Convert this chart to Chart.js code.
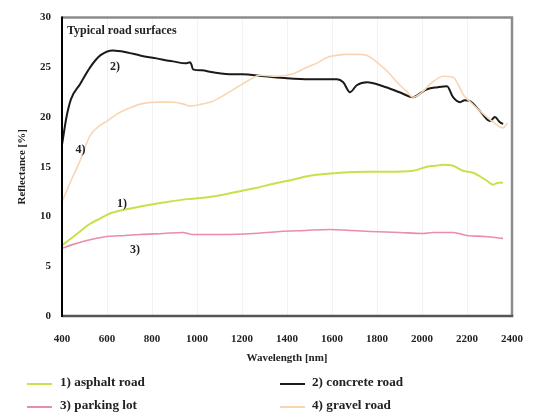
<!DOCTYPE html>
<html>
<head>
<meta charset="utf-8">
<script src="https://cdn.jsdelivr.net/npm/chart.js@4"></script>
<style>
  html, body { margin: 0; padding: 0; background: #fff; }
  #wrap { position: relative; width: 541px; height: 417px; }
  #legend { position: absolute; left: 0; top: 0; width: 541px; height: 417px; pointer-events: none; }
  .item { position: absolute; font: bold 12px "Liberation Serif", "DejaVu Serif", serif; color: #222; white-space: nowrap; }
  .item .ln { position: absolute; height: 0; border-top: 2px solid #000; }
</style>
</head>
<body>
<div id="wrap">
  <canvas id="c" width="541" height="417"></canvas>
  <div id="legend"></div>
</div>
<script>
// ---- data ----
const seriesNames = ["1) asphalt road", "2) concrete road", "3) parking lot", "4) gravel road"];
const seriesColors = ["#c6e24a", "#1a1a1a", "#ea8cb0", "#f8d6b4"];

const asphaltWl = [400, 440, 480, 520, 569, 613, 680, 747, 850, 955, 1030, 1116, 1200, 1267, 1340, 1405, 1502, 1580, 1636, 1750, 1850, 1960, 2022, 2060, 2093, 2138, 2182, 2227, 2260, 2289, 2316, 2340, 2360];
const asphaltR  = [7.1, 7.8, 8.5, 9.2, 9.8, 10.3, 10.7, 11.0, 11.4, 11.75, 11.9, 12.2, 12.6, 12.9, 13.3, 13.6, 14.1, 14.3, 14.4, 14.5, 14.5, 14.6, 15.0, 15.1, 15.2, 15.1, 14.6, 14.4, 14.0, 13.6, 13.2, 13.4, 13.4];

const concreteWl = [400, 420, 440, 480, 525, 570, 627, 690, 747, 820, 893, 950, 969, 975, 982, 1020, 1071, 1160, 1200, 1300, 1400, 1500, 1622, 1650, 1680, 1710, 1756, 1827, 1900, 1960, 2000, 2022, 2070, 2111, 2138, 2169, 2190, 2213, 2258, 2302, 2324, 2345, 2360];
const concreteR  = [17.2, 20.0, 21.8, 23.3, 25.0, 26.2, 26.7, 26.5, 26.2, 25.9, 25.6, 25.4, 25.5, 25.3, 24.8, 24.7, 24.5, 24.3, 24.3, 24.1, 23.9, 23.8, 23.8, 23.5, 22.5, 23.2, 23.5, 23.1, 22.5, 22.0, 22.5, 22.8, 23.0, 23.1, 22.0, 21.5, 21.7, 21.6, 20.6, 19.6, 20.0, 19.5, 19.3];

const parkingWl = [400, 450, 493, 550, 600, 680, 747, 850, 938, 980, 1116, 1250, 1369, 1480, 1591, 1680, 1769, 1900, 2004, 2050, 2138, 2200, 2280, 2360];
const parkingR  = [6.8, 7.2, 7.5, 7.8, 8.0, 8.1, 8.2, 8.3, 8.4, 8.2, 8.2, 8.3, 8.5, 8.6, 8.7, 8.6, 8.5, 8.4, 8.3, 8.4, 8.4, 8.1, 8.0, 7.8];

const gravelWl = [400, 440, 480, 524, 560, 600, 644, 700, 747, 820, 893, 940, 969, 1020, 1071, 1120, 1178, 1230, 1280, 1350, 1420, 1489, 1540, 1578, 1620, 1667, 1720, 1756, 1800, 1850, 1889, 1930, 1960, 2000, 2036, 2093, 2138, 2160, 2182, 2220, 2258, 2316, 2360, 2380];
const gravelR  = [11.5, 13.6, 15.6, 18.1, 19.0, 19.6, 20.3, 20.9, 21.3, 21.5, 21.5, 21.3, 21.1, 21.3, 21.6, 22.2, 23.0, 23.7, 24.2, 24.1, 24.3, 25.0, 25.5, 26.0, 26.2, 26.3, 26.3, 26.2, 25.5, 24.5, 23.5, 22.6, 22.0, 22.5, 23.3, 24.1, 24.0, 23.3, 22.3, 21.4, 20.6, 19.5, 18.9, 19.4];

const xMin = 400, xMax = 2400, xStep = 200;
const yMin = 0, yMax = 30, yStep = 5;

const chartTitle = "Typical road surfaces";
const xTitle = "Wavelength [nm]";
const yTitle = "Reflectance [%]";
const curveLabels = [
  { text: "1)", x: 667, y: 11.3 },
  { text: "2)", x: 635, y: 25.0 },
  { text: "3)", x: 724, y: 6.6 },
  { text: "4)", x: 482, y: 16.7 }
];

// ---- build ----
function pts(xs, ys) { return xs.map((x, i) => ({ x: x, y: ys[i] })); }
const seriesData = [pts(asphaltWl, asphaltR), pts(concreteWl, concreteR), pts(parkingWl, parkingR), pts(gravelWl, gravelR)];
const widths = [2, 2, 1.6, 1.6];
const drawOrder = [3, 2, 0, 1];

const FONT = '"Liberation Serif", "DejaVu Serif", serif';

const framePlugin = {
  id: 'frame',
  afterDraw(chart) {
    const { ctx, chartArea: a, scales } = chart;
    ctx.save();
    ctx.strokeStyle = '#8c8c8c';
    ctx.lineWidth = 2.5;
    ctx.beginPath();
    ctx.moveTo(a.left, a.top); ctx.lineTo(a.right, a.top); ctx.lineTo(a.right, a.bottom);
    ctx.stroke();
    ctx.strokeStyle = '#555';
    ctx.lineWidth = 2.5;
    ctx.beginPath();
    ctx.moveTo(a.left, a.bottom); ctx.lineTo(a.right + 1.25, a.bottom);
    ctx.stroke();
    ctx.strokeStyle = '#000';
    ctx.lineWidth = 2;
    ctx.beginPath();
    ctx.moveTo(a.left, a.top - 1); ctx.lineTo(a.left, a.bottom + 1);
    ctx.stroke();
    ctx.fillStyle = '#222';
    ctx.font = 'bold 12px ' + FONT;
    ctx.textBaseline = 'middle';
    ctx.textAlign = 'left';
    ctx.fillText(chartTitle, a.left + 5, a.top + 13);
    ctx.font = 'bold 12px ' + FONT;
    ctx.textAlign = 'center';
    curveLabels.forEach(l => {
      ctx.fillText(l.text, scales.x.getPixelForValue(l.x), scales.y.getPixelForValue(l.y));
    });
    ctx.restore();
  }
};

new Chart(document.getElementById('c'), {
  type: 'line',
  data: {
    datasets: drawOrder.map(i => ({
      label: seriesNames[i],
      data: seriesData[i],
      borderColor: seriesColors[i],
      borderWidth: widths[i],
      pointRadius: 0,
      fill: false,
      tension: 0.35,
      cubicInterpolationMode: 'monotone'
    }))
  },
  options: {
    responsive: false,
    animation: false,
    layout: { padding: { left: 0, top: 12, right: 29, bottom: 47 } },
    plugins: { legend: { display: false }, tooltip: { enabled: false } },
    scales: {
      x: {
        type: 'linear', min: xMin, max: xMax,
        afterFit(s) { s.height = 54; },
        ticks: { stepSize: xStep, padding: 17, color: '#222', font: { family: FONT, size: 11, weight: 'bold' }, maxRotation: 0,
                 callback: v => String(v) },
        grid: { color: 'rgba(0,0,0,0.05)', drawTicks: false },
        border: { display: false },
        title: { display: true, text: xTitle, color: '#222', font: { family: FONT, size: 11, weight: 'bold', lineHeight: 1.2 }, padding: { top: 0, bottom: 5 } }
      },
      y: {
        min: yMin, max: yMax,
        afterFit(s) { s.width = 62; },
        ticks: { stepSize: yStep, padding: 11, color: '#222', font: { family: FONT, size: 11, weight: 'bold' }, callback: v => String(v) },
        grid: { display: false, drawTicks: false },
        border: { display: false },
        title: { display: true, text: yTitle, color: '#222', font: { family: FONT, size: 11, weight: 'bold', lineHeight: 1.2 }, padding: { top: 16, bottom: 0 } }
      }
    }
  },
  plugins: [framePlugin]
});

// ---- legend (two columns, as in the reference) ----
const legendPos = [
  { lx: 27, tx: 60, y: 383 },
  { lx: 280, tx: 312, y: 383 },
  { lx: 27, tx: 60, y: 406 },
  { lx: 280, tx: 312, y: 406 }
];
const leg = document.getElementById('legend');
seriesNames.forEach((name, i) => {
  const p = legendPos[i];
  const ln = document.createElement('div');
  ln.className = 'item';
  ln.style.left = p.lx + 'px'; ln.style.top = p.y + 'px';
  const bar = document.createElement('div');
  bar.className = 'ln';
  bar.style.width = '25px';
  bar.style.borderTopColor = seriesColors[i];
  ln.appendChild(bar);
  leg.appendChild(ln);
  const t = document.createElement('div');
  t.className = 'item';
  t.textContent = name;
  t.style.left = p.tx + 'px';
  t.style.top = (p.y - 8) + 'px';
  t.style.transform = 'scaleX(1.1)';
  t.style.transformOrigin = 'left center';
  leg.appendChild(t);
});
</script>
</body>
</html>
